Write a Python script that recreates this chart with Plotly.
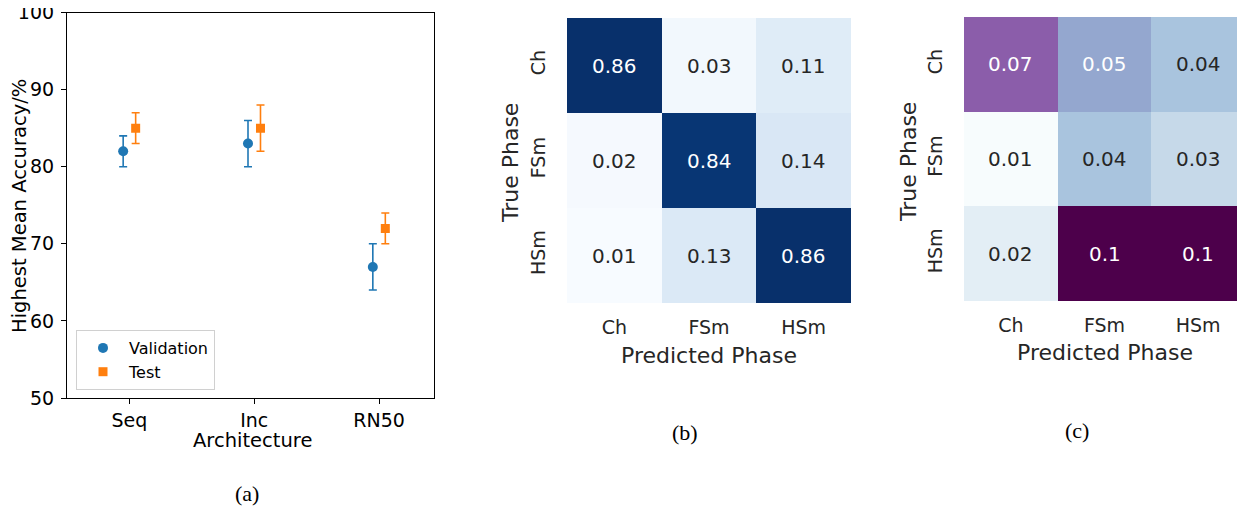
import plotly.graph_objects as go

# ---------------- data ----------------
architectures = ["Seq", "Inc", "RN50"]
val_mean = [82, 83, 67]
val_err = [2, 3, 3]
test_mean = [85, 85, 72]
test_err = [2, 3, 2]

phases = ["Ch", "FSm", "HSm"]
cm_mean = [[0.86, 0.03, 0.11],
           [0.02, 0.84, 0.14],
           [0.01, 0.13, 0.86]]
cm_std = [[0.07, 0.05, 0.04],
          [0.01, 0.04, 0.03],
          [0.02, 0.10, 0.10]]

# page body has an 8px default margin -> draw the figure 8px smaller and
# express reference pixel positions relative to that offset
OFF = 8
W, H = 1245 - OFF, 508 - OFF
BLUES = ['#f7fbff', '#deebf7', '#c6dbef', '#9ecae1', '#6baed6',
         '#4292c6', '#2171b5', '#08519c', '#08306b']
BUPU = ['#f7fcfd', '#e0ecf4', '#bfd3e6', '#9ebcda', '#8c96c6',
        '#8c6bb1', '#88419d', '#810f7c', '#4d004b']


def scale(cols):
    n = len(cols) - 1
    return [[i / n, c] for i, c in enumerate(cols)]


def hex2rgb(h):
    h = h.lstrip('#')
    return [int(h[i:i + 2], 16) / 255 for i in (0, 2, 4)]


def color_at(cols, t):
    t = min(max(t, 0), 1)
    n = len(cols) - 1
    i = min(int(t * n), n - 1)
    f = t * n - i
    a, b = hex2rgb(cols[i]), hex2rgb(cols[i + 1])
    return [a[k] + (b[k] - a[k]) * f for k in range(3)]


def lum(rgb):
    def ch(c):
        return c / 12.92 if c <= 0.03928 else ((c + 0.055) / 1.055) ** 2.4
    r, g, b = [ch(c) for c in rgb]
    return 0.2126 * r + 0.7152 * g + 0.0722 * b


def px_x(x):
    return (x - OFF) / W


def px_y(y):
    return 1 - (y - OFF) / H


FONT = "DejaVu Sans"
fig = go.Figure()

# ---------------- panel (a) ----------------
off = 0.05
xs = list(range(len(architectures)))
fig.add_trace(go.Scatter(
    x=[x - off for x in xs], y=val_mean, mode="markers", name="Validation",
    marker=dict(symbol="circle", size=10, color="#1f77b4"),
    error_y=dict(type="data", array=val_err, color="#1f77b4", thickness=1.6, width=4),
    xaxis="x", yaxis="y"))
fig.add_trace(go.Scatter(
    x=[x + off for x in xs], y=test_mean, mode="markers", name="Test",
    marker=dict(symbol="square", size=9, color="#ff7f0e"),
    error_y=dict(type="data", array=test_err, color="#ff7f0e", thickness=1.6, width=4),
    xaxis="x", yaxis="y"))

# ---------------- panel (b)/(c) heatmaps ----------------
fig.add_trace(go.Heatmap(
    z=cm_mean, x=phases, y=phases, colorscale=scale(BLUES),
    zmin=min(min(r) for r in cm_mean), zmax=max(max(r) for r in cm_mean),
    showscale=False, xaxis="x2", yaxis="y2", hoverinfo="z"))
fig.add_trace(go.Heatmap(
    z=cm_std, x=phases, y=phases, colorscale=scale(BUPU),
    zmin=min(min(r) for r in cm_std), zmax=max(max(r) for r in cm_std),
    showscale=False, xaxis="x3", yaxis="y3", hoverinfo="z"))

annotations = []
for (mat, cols, xr, yr) in [(cm_mean, BLUES, "x2", "y2"), (cm_std, BUPU, "x3", "y3")]:
    lo = min(min(r) for r in mat)
    hi = max(max(r) for r in mat)
    for i, row in enumerate(mat):
        for j, v in enumerate(row):
            rgb = color_at(cols, (v - lo) / (hi - lo))
            tc = "#262626" if lum(rgb) > 0.408 else "white"
            annotations.append(dict(
                x=phases[j], y=phases[i], xref=xr, yref=yr,
                text=f"{v:g}", showarrow=False,
                font=dict(family=FONT, size=20, color=tc)))


def label(text, x, y, size, angle=0, family=FONT, color="#262626"):
    annotations.append(dict(
        text=text, x=px_x(x), y=px_y(y), xref="paper", yref="paper",
        showarrow=False, textangle=angle, xanchor="center", yanchor="middle",
        font=dict(family=family, size=size, color=color)))


label("Architecture", 252, 440, 19.5, color="black")
label("Highest Mean Accuracy/%", 19, 206, 19.5, angle=-90, color="black")
label("Predicted Phase", 709, 355, 22)
label("True Phase", 510, 163, 22, angle=-90)
label("Predicted Phase", 1105, 352, 22)
label("True Phase", 908, 162, 22, angle=-90)
label("(a)", 247, 493, 22, family="Liberation Serif", color="black")
label("(b)", 685, 432, 22, family="Liberation Serif", color="black")
label("(c)", 1077, 430, 22, family="Liberation Serif", color="black")

common_hm_x = dict(showgrid=False, zeroline=False, ticks="", showline=False,
                   tickfont=dict(family=FONT, size=19, color="#262626"),
                   ticklabelstandoff=11, fixedrange=True, automargin=False)
common_hm_y = dict(showgrid=False, zeroline=False, ticks="", showline=False,
                   autorange="reversed", tickangle=-90,
                   tickfont=dict(family=FONT, size=19, color="#262626"),
                   ticklabelstandoff=17, fixedrange=True, automargin=False)

fig.update_layout(
    width=W, height=H, margin=dict(l=0, r=0, t=0, b=0, autoexpand=False),
    paper_bgcolor="white", plot_bgcolor="white",
    showlegend=True,
    legend=dict(x=px_x(76), y=px_y(390), xanchor="left", yanchor="bottom",
                bgcolor="rgba(255,255,255,0.8)", bordercolor="#d0d0d0", borderwidth=1,
                font=dict(family=FONT, size=16, color="black"),
                tracegroupgap=0, itemwidth=42),
    xaxis=dict(domain=[px_x(67), px_x(434)], range=[-0.5, 2.44],
               tickmode="array", tickvals=xs, ticktext=architectures,
               showline=True, linecolor="black", linewidth=1.2, mirror=True,
               ticks="outside", ticklen=5, tickcolor="black", showgrid=False,
               zeroline=False, tickfont=dict(family=FONT, size=19, color="black"),
               anchor="y", automargin=False, ticklabeloverflow="allow"),
    yaxis=dict(domain=[px_y(398), px_y(12.5)], range=[50, 100], dtick=10,
               showline=True, linecolor="black", linewidth=1.2, mirror=True,
               ticks="outside", ticklen=5, tickcolor="black", showgrid=False,
               zeroline=False, tickfont=dict(family=FONT, size=19, color="black"),
               ticklabelstandoff=3, anchor="x", automargin=False,
               ticklabeloverflow="allow"),
    xaxis2=dict(domain=[px_x(567), px_x(851)], anchor="y2", **common_hm_x),
    yaxis2=dict(domain=[px_y(303), px_y(18)], anchor="x2", **common_hm_y),
    xaxis3=dict(domain=[px_x(964), px_x(1245)], anchor="y3", **common_hm_x),
    yaxis3=dict(domain=[px_y(301), px_y(17)], anchor="x3", **common_hm_y),
    annotations=annotations,
)

fig.write_html("out.html")
